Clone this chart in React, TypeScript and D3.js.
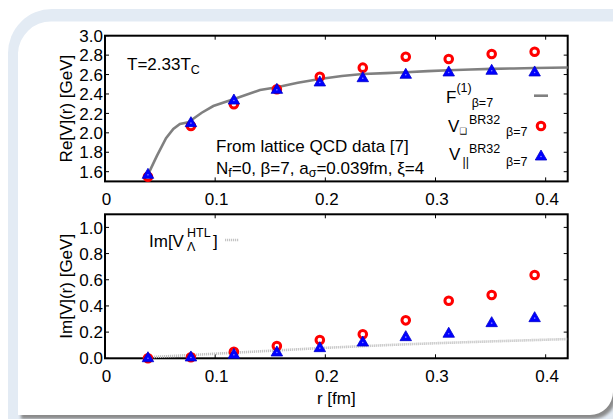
import React from "react";
import * as d3 from "d3";

const rLattice = [0.039, 0.078, 0.117, 0.156, 0.195, 0.234, 0.273, 0.312, 0.351, 0.39];
const reVbox = [1.548, 2.07, 2.294, 2.448, 2.578, 2.671, 2.784, 2.76, 2.812, 2.835];
const reVpar = [1.583, 2.115, 2.348, 2.458, 2.534, 2.578, 2.613, 2.637, 2.654, 2.637];
const imVbox = [0.0, 0.008, 0.05, 0.094, 0.14, 0.183, 0.29, 0.44, 0.484, 0.636];
const imVpar = [0.012, 0.018, 0.038, 0.056, 0.089, 0.132, 0.173, 0.199, 0.28, 0.318];

const rF = [0.039, 0.047, 0.0554, 0.062, 0.068, 0.0756, 0.0878, 0.0983, 0.1165, 0.1407, 0.156, 0.175, 0.195, 0.215, 0.234, 0.255, 0.273, 0.293, 0.312, 0.332, 0.351, 0.371, 0.39, 0.405, 0.42];
const fVals = [1.57, 1.76, 1.944, 2.04, 2.091, 2.108, 2.207, 2.276, 2.345, 2.441, 2.469, 2.515, 2.554, 2.585, 2.605, 2.615, 2.623, 2.635, 2.645, 2.652, 2.658, 2.663, 2.667, 2.67, 2.672];

const rHTL = [0.039, 0.08, 0.12, 0.16, 0.2, 0.24, 0.273, 0.31, 0.35, 0.385, 0.42];
const imHTL = [0.008, 0.026, 0.044, 0.062, 0.08, 0.095, 0.107, 0.118, 0.129, 0.138, 0.147];

const xTicks = [0, 0.1, 0.2, 0.3, 0.4];
const yTicksTop = [1.6, 1.8, 2.0, 2.2, 2.4, 2.6, 2.8, 3.0];
const yTicksBot = [0.0, 0.2, 0.4, 0.6, 0.8, 1.0];

const FONT = "'Liberation Sans', Arial, Helvetica, sans-serif";
const FS = 17;
const SS = 12.5;
const RED = "#ff0000";
const BLUE = "#0000ff";

const L = 105, R = 567.7;
const topY0 = 35.7, topY1 = 181.4;
const botY0 = 214.3, botY1 = 358.3;

const x = d3.scaleLinear().domain([0, 0.42]).range([L, R]);
const yTop = d3.scaleLinear().domain([1.5, 3.0]).range([topY1, topY0]);
const yBot = d3.scaleLinear().domain([0, 1.1]).range([botY1, botY0]);

function Circ({ cx, cy }: { cx: number; cy: number }) {
  return <circle cx={cx} cy={cy} r={3.8} fill="#fff" stroke={RED} strokeWidth={3} />;
}
function Tri({ cx, cy }: { cx: number; cy: number }) {
  const w = 11.5, h = 10;
  const p = `M${cx - w / 2},${cy + h / 2} L${cx + w / 2},${cy + h / 2} L${cx},${cy - h / 2} Z`;
  return (
    <g>
      <path d={p} fill={BLUE} stroke="#0000cc" strokeWidth={0.8} />
      <circle cx={cx} cy={cy + 1.5} r={0.8} fill="#8080ff" />
    </g>
  );
}

function Frame({ y0, y1, yScale, yTicks }: any) {
  const tl = 4;
  return (
    <g>
      {xTicks.map((t) => (
        <g key={"x" + t}>
          <line x1={x(t)} x2={x(t)} y1={y1} y2={y1 - tl} stroke="#000" strokeWidth={1} />
          <line x1={x(t)} x2={x(t)} y1={y0} y2={y0 + tl} stroke="#000" strokeWidth={1} />
        </g>
      ))}
      {yTicks.map((t: number) => (
        <g key={"y" + t}>
          <line x1={L} x2={L + tl} y1={yScale(t)} y2={yScale(t)} stroke="#000" strokeWidth={1} />
          <line x1={R} x2={R - tl} y1={yScale(t)} y2={yScale(t)} stroke="#000" strokeWidth={1} />
          <text x={103} y={yScale(t)} dy="0.36em" textAnchor="end" fontSize={FS} fontFamily={FONT}>
            {d3.format(".1f")(t)}
          </text>
        </g>
      ))}
      {xTicks.map((t) => (
        <text key={"xl" + t} x={x(t) + 1.5} y={y1 + 24} textAnchor="middle" fontSize={FS} fontFamily={FONT}>
          {t === 0 ? "0" : d3.format(".1f")(t)}
        </text>
      ))}
      <rect x={L} y={y0} width={R - L} height={y1 - y0} fill="none" stroke="#000" strokeWidth={2} />
    </g>
  );
}

export default function App() {
  const fLine = d3
    .line<number>()
    .x((_, i) => x(rF[i]))
    .y((d) => yTop(d))(fVals);
  const htlLine = d3
    .line<number>()
    .x((_, i) => x(rHTL[i]))
    .y((d) => yBot(d))(imHTL);

  const panel = "M18,53 A33,33 0 0 1 51,21.5 L613,21.5 L613,392 A23,23 0 0 1 590,415 L18,415 Z";

  return (
    <svg width={613} height={419} style={{ position: "absolute", left: 0, top: 0 }}>
      <defs>
        <filter id="blur" x="-10%" y="-10%" width="120%" height="120%">
          <feGaussianBlur stdDeviation="1.5" />
        </filter>
      </defs>
      <rect x={0} y={0} width={613} height={419} fill="#fff" />
      <rect x={8} y={9} width={700} height={500} rx={44} fill="#e3ebf4" />
      <path d={panel} transform="translate(3,4)" fill="#8a8a8a" filter="url(#blur)" />
      <path d={panel} fill="#fff" />

      {/* Top plot */}
      <Frame y0={topY0} y1={topY1} yScale={yTop} yTicks={yTicksTop} />
      <path d={fLine || ""} fill="none" stroke="#808080" strokeWidth={2.6} />
      {rLattice.map((r, i) => (
        <Circ key={"rc" + i} cx={x(r)} cy={yTop(reVbox[i])} />
      ))}
      {rLattice.map((r, i) => (
        <Tri key={"rt" + i} cx={x(r)} cy={yTop(reVpar[i])} />
      ))}

      <text x={127} y={70} fontSize={FS} fontFamily={FONT}>
        T=2.33T<tspan fontSize={SS} dy={4}>C</tspan>
      </text>
      <text x={216} y={151.5} fontSize={FS} fontFamily={FONT}>From lattice QCD data [7]</text>
      <text x={216} y={174} fontSize={FS} fontFamily={FONT}>
        N<tspan fontSize={SS} dy={3}>f</tspan>
        <tspan dy={-3}>=0, β=7, a</tspan>
        <tspan fontSize={SS} dy={3}>σ</tspan>
        <tspan dy={-3}>=0.039fm, ξ=4</tspan>
      </text>

      {/* legend top */}
      <text x={446} y={102.5} fontSize={FS} fontFamily={FONT}>
        F<tspan fontSize={SS} dy={-11}>(1)</tspan>
        <tspan fontSize={SS} dy={15}>β=7</tspan>
      </text>
      <line x1={534} x2={548} y1={95.7} y2={95.7} stroke="#808080" strokeWidth={2.6} />

      <text x={448} y={131.5} fontSize={FS} fontFamily={FONT}>V</text>
      <text x={459.5} y={134} fontSize={8.5} fontFamily="'DejaVu Sans', sans-serif">❑</text>
      <text x={469} y={123.5} fontSize={SS} fontFamily={FONT}>BR32</text>
      <text x={506} y={136} fontSize={SS} fontFamily={FONT}>β=7</text>
      <Circ cx={541} cy={126} />

      <text x={449} y={160} fontSize={FS} fontFamily={FONT}>V</text>
      <text x={462.5} y={166} fontSize={SS} fontFamily={FONT}>||</text>
      <text x={469} y={152.5} fontSize={SS} fontFamily={FONT}>BR32</text>
      <text x={506} y={166} fontSize={SS} fontFamily={FONT}>β=7</text>
      <Tri cx={541} cy={155} />

      <text transform={`translate(72,${(topY0 + topY1) / 2}) rotate(-90)`} textAnchor="middle" fontSize={FS} fontFamily={FONT}>
        Re[V](r) [GeV]
      </text>

      {/* Bottom plot */}
      <Frame y0={botY0} y1={botY1} yScale={yBot} yTicks={yTicksBot} />
      <path d={htlLine || ""} fill="none" stroke="#c4c4c4" strokeWidth={2.6} strokeDasharray="1.2,0.8" />
      {rLattice.map((r, i) => (
        <Circ key={"ic" + i} cx={x(r)} cy={yBot(imVbox[i])} />
      ))}
      {rLattice.map((r, i) => (
        <Tri key={"it" + i} cx={x(r)} cy={yBot(imVpar[i])} />
      ))}

      <text x={149} y={247} fontSize={FS} fontFamily={FONT}>Im[V</text>
      <text x={187} y={237} fontSize={SS} fontFamily={FONT}>HTL</text>
      <text x={187} y={250.5} fontSize={SS} fontFamily={FONT}>Λ</text>
      <text x={213} y={247} fontSize={FS} fontFamily={FONT}>]</text>
      <line x1={225} x2={239} y1={240} y2={240} stroke="#c4c4c4" strokeWidth={2.6} strokeDasharray="1.2,0.8" />

      <text transform={`translate(72,${(botY0 + botY1) / 2}) rotate(-90)`} textAnchor="middle" fontSize={FS} fontFamily={FONT}>
        Im[V](r) [GeV]
      </text>
      <text x={(L + R) / 2} y={404} textAnchor="middle" fontSize={FS} fontFamily={FONT}>r [fm]</text>
    </svg>
  );
}
